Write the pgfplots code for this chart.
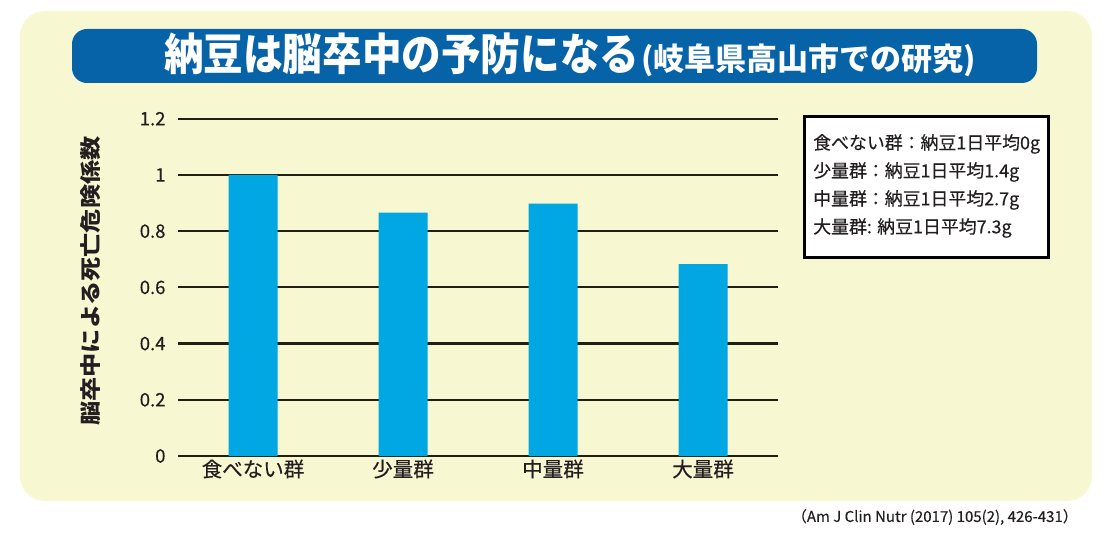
\documentclass[border=0pt]{standalone}
\usepackage{pgfplots}
\pgfplotsset{compat=1.18}
\usepackage{fontspec}
\setmainfont{Noto Sans CJK JP}
\newfontfamily\medfont{Noto Sans CJK JP}[FakeBold=0.35]
\definecolor{cream}{RGB}{247,247,210}
\definecolor{banner}{RGB}{6,99,168}
\definecolor{barblue}{RGB}{0,167,226}
\definecolor{gridk}{RGB}{35,31,16}
\definecolor{txt}{RGB}{35,31,32}
\begin{document}
\begin{tikzpicture}[x=1pt,y=1pt]
\path[use as bounding box] (0,0) rectangle (1113,533);
\fill[cream, rounded corners=25pt] (20,32) rectangle (1092,522);
\fill[banner, rounded corners=15pt] (72,450) rectangle (1037,504);
\node[text=white, font=\bfseries, anchor=center, inner sep=0pt] at (570,478)
  {\scalebox{0.9}[1]{\fontsize{44}{48}\selectfont 納豆は脳卒中の予防になる}\hspace{2pt}{\fontsize{31}{34}\selectfont (岐阜県高山市での研究)}};
\begin{axis}[
  at={(178pt,77pt)}, anchor=south west,
  scale only axis, width=600pt, height=337.2pt,
  ymin=0, ymax=1.2, xmin=-0.5, xmax=3.5,
  ytick={0,0.2,0.4,0.6,0.8,1,1.2},
  xtick=data,
  xticklabels={食べない群,少量群,中量群,大量群},
  axis line style={draw=none},
  major tick style={draw=none},
  ymajorgrids,
  grid style={gridk, line width=2.2pt},
  /pgf/number format/assume math mode=true,
  yticklabel style={font=\medfont\fontsize{18.5}{20}\selectfont, text=txt, xshift=-9pt},
  xticklabel style={font=\medfont\fontsize{20.5}{23}\selectfont, text=txt},
  clip=false,
]
\addplot[ybar, bar width=49pt, fill=barblue, draw=none] coordinates {
  (0,1.00) (1,0.866) (2,0.898) (3,0.683)
};
\end{axis}
\node[rotate=90, font=\bfseries, text=txt, inner sep=0pt] at (91,252)
  {\scalebox{1.15}[1]{\fontsize{21}{24}\selectfont 脳卒中による死亡危険係数}};
\draw[black, line width=3pt, fill=white] (804,416) rectangle (1048,275);
\begin{scope}[every node/.style={anchor=west, inner sep=0pt, text=txt, font=\medfont\fontsize{17.9}{19}\selectfont}]
\node at (813,389) {食べない群：納豆1日平均0g};
\node at (813,361) {少量群：納豆1日平均1.4g};
\node at (813,333) {中量群：納豆1日平均2.7g};
\node at (813,305) {大量群: 納豆1日平均7.3g};
\end{scope}
\node[anchor=east, inner sep=0pt, text=txt, font=\medfont\fontsize{15}{17}\selectfont] at (1078,16) {（Am J Clin Nutr (2017) 105(2), 426-431）};
\end{tikzpicture}
\end{document}
